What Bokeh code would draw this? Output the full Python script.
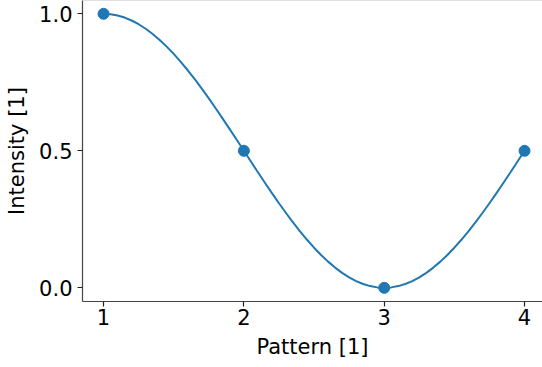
from bokeh.plotting import figure
from bokeh.models import Range1d, Span, FixedTicker
from bokeh.embed import file_html
from bokeh.resources import INLINE

# Measured intensity at each pattern
pattern = [1, 2, 3, 4]
intensity = [1.0, 0.5, 0.0, 0.5]

# Smooth intensity curve between the patterns (step 0.05)
curve_x = [round(1 + 0.05 * i, 2) for i in range(61)]
curve_y = [1.0000, 0.9985, 0.9938, 0.9862, 0.9755, 0.9619, 0.9455, 0.9263, 0.9045, 0.8802,
           0.8536, 0.8247, 0.7939, 0.7612, 0.7270, 0.6913, 0.6545, 0.6167, 0.5782, 0.5392,
           0.5000, 0.4608, 0.4218, 0.3833, 0.3455, 0.3087, 0.2730, 0.2388, 0.2061, 0.1753,
           0.1464, 0.1198, 0.0955, 0.0737, 0.0545, 0.0381, 0.0245, 0.0138, 0.0062, 0.0015,
           0.0000, 0.0015, 0.0062, 0.0138, 0.0245, 0.0381, 0.0545, 0.0737, 0.0955, 0.1198,
           0.1464, 0.1753, 0.2061, 0.2388, 0.2730, 0.3087, 0.3455, 0.3833, 0.4218, 0.4608,
           0.5000]

x_ticks = [1, 2, 3, 4]
y_ticks = [0.0, 0.5, 1.0]

FONT = "DejaVu Sans"
BLUE = "#1f77b4"

p = figure(width=542, height=367, output_backend="svg", toolbar_location=None,
           x_range=Range1d(0.85, 4.128), y_range=Range1d(-0.05, 1.0485),
           min_border_left=82, min_border_bottom=66, min_border_top=0, min_border_right=0)
p.background_fill_color = "white"
p.border_fill_color = "white"
p.outline_line_color = None
p.grid.visible = False

p.line(curve_x, curve_y, line_color=BLUE, line_width=2, line_join="round")
p.scatter(pattern, intensity, size=11, fill_color=BLUE, line_color=BLUE)

# faint top frame edge
p.add_layout(Span(location=p.y_range.end, dimension="width", line_color="#c0c0c0", line_width=1))

for ax in (p.xaxis[0], p.yaxis[0]):
    ax.axis_line_color = "#444444"
    ax.axis_line_width = 1.2
    ax.major_tick_line_color = "#222222"
    ax.major_tick_line_width = 1.2
    ax.major_tick_out = 5
    ax.major_tick_in = 0
    ax.minor_tick_line_color = None
    ax.major_label_text_font = FONT
    ax.major_label_text_font_size = "21px"
    ax.major_label_text_color = "black"
    ax.axis_label_text_font = FONT
    ax.axis_label_text_font_size = "21px"
    ax.axis_label_text_font_style = "normal"
    ax.axis_label_text_color = "black"

p.xaxis.ticker = FixedTicker(ticks=x_ticks)
p.yaxis.ticker = FixedTicker(ticks=y_ticks)
p.yaxis.major_label_overrides = {0.0: "0.0", 0.5: "0.5", 1.0: "1.0"}
p.xaxis.axis_label = "Pattern [1]"
p.yaxis.axis_label = "Intensity [1]"
p.xaxis.major_label_standoff = 2
p.yaxis.major_label_standoff = 5
p.xaxis.axis_label_standoff = 7
p.yaxis.axis_label_standoff = 7

open("out.html", "w").write(file_html(p, INLINE))
